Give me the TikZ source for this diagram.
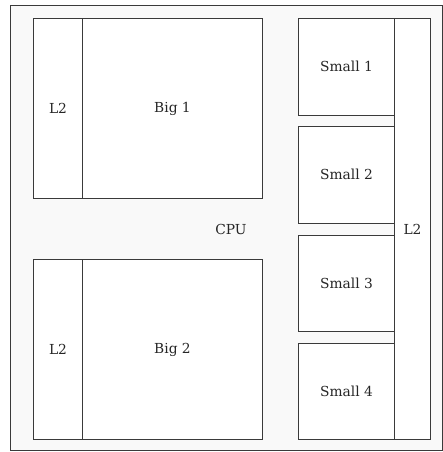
\documentclass[tikz,border=0pt]{standalone}
\usepackage{fontspec}
\setmainfont{DejaVu Serif}
\definecolor{edge}{HTML}{3A3A3A}
\definecolor{chip}{HTML}{F9F9F9}
\tikzset{
  lbl/.style={font=\fontsize{13.8}{16}\selectfont, text=black!85},
  unit/.style={lbl, draw=edge, line width=1pt, fill=white, inner sep=0pt, anchor=north west},
}
\begin{document}
\begin{tikzpicture}[x=1pt,y=-1pt]
  \useasboundingbox (0,0) rectangle (443,452);
  \def\Xs{298}; % small cores
  \def\Ws{96};
  \def\Hs{96.5};

  % chip
  \draw[draw=edge, line width=1pt, fill=chip] (10,6) rectangle (442,450);
  \node[lbl] (cpu) at (231,229) {CPU};

  % big cores
  \node[unit, minimum width=49, minimum height=180] (l2a) at (33,18) {L2};
  \node[unit, minimum width=180, minimum height=180] (big1) at (82,18) {Big 1};
  \node[unit, minimum width=49, minimum height=180] (l2b) at (33,259) {L2};
  \node[unit, minimum width=180, minimum height=180] (big2) at (82,259) {Big 2};

  % small cores
  \node[unit, minimum width=\Ws, minimum height=\Hs] (small1) at (\Xs,18) {Small 1};
  \node[unit, minimum width=\Ws, minimum height=\Hs] (small2) at (\Xs,126) {Small 2};
  \node[unit, minimum width=\Ws, minimum height=\Hs] (small3) at (\Xs,234.5) {Small 3};
  \node[unit, minimum width=\Ws, minimum height=\Hs] (small4) at (\Xs,342.5) {Small 4};

  % shared cache
  \node[unit, minimum width=36, minimum height=421] (l2c) at (394,18) {L2};
\end{tikzpicture}
\end{document}
